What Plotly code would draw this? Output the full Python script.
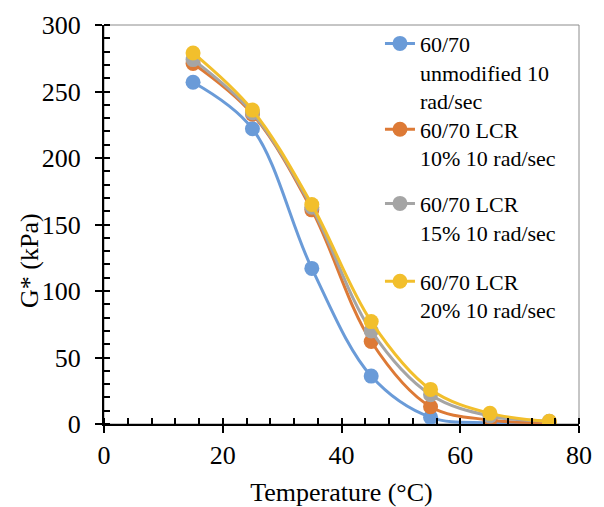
import plotly.graph_objects as go

temperature = [15, 25, 35, 45, 55, 65, 75]
unmodified = [257, 222, 117, 36, 5, 1, 0.5]
lcr10 = [271, 233, 161, 62, 13, 3, 1]
lcr15 = [274, 234, 163, 70, 22, 6, 2]
lcr20 = [279, 236, 165, 77, 26, 8, 2]

names = ["60/70<br>unmodified 10<br>rad/sec",
         "60/70 LCR<br>10% 10 rad/sec",
         "60/70 LCR<br>15% 10 rad/sec",
         "60/70 LCR<br>20% 10 rad/sec"]
colors = ["#6A9BD8", "#DD7A36", "#A5A5A5", "#F2BF2C"]
series = [unmodified, lcr10, lcr15, lcr20]
legend_ids = ["legend", "legend2", "legend3", "legend4"]
legend_tops = [1.006, 0.791, 0.605, 0.410]

FONT = "Liberation Serif, Times New Roman, serif"

fig = go.Figure()
for n, c, s, lg in zip(names, colors, series, legend_ids):
    fig.add_trace(go.Scatter(
        x=temperature, y=s, name=n, mode="lines+markers",
        line=dict(color=c, width=3, shape="spline", smoothing=1.0),
        marker=dict(color=c, size=15),
        legend=lg,
    ))

# overlay axes to draw inside part of major ticks
fig.add_trace(go.Scatter(x=[None], y=[None], xaxis="x2", yaxis="y2", showlegend=False, hoverinfo="skip"))

legend_common = dict(
    x=0.581, xanchor="left", yanchor="top",
    font=dict(family=FONT, size=22, color="black"),
    bgcolor="rgba(0,0,0,0)", borderwidth=0, valign="top",
)
layout_legends = {}
for lg, top in zip(legend_ids, legend_tops):
    layout_legends[lg] = dict(legend_common, y=top)

fig.update_layout(
    width=596, height=499,
    margin=dict(l=96, r=25, t=17, b=83, autoexpand=False),
    paper_bgcolor="white", plot_bgcolor="white",
    font=dict(family=FONT, size=26, color="black"),
    showlegend=True,
    xaxis=dict(
        range=[0, 80], dtick=20, tick0=0, automargin=False,
        showgrid=False, zeroline=False,
        showline=True, linecolor="black", linewidth=2,
        ticks="outside", ticklen=7, tickwidth=2, tickcolor="black",
        minor=dict(dtick=4, ticks="inside", ticklen=6, tickwidth=2, tickcolor="black", showgrid=False),
        tickfont=dict(family=FONT, size=26, color="black"),
        title=dict(text="Temperature (°C)", font=dict(family=FONT, size=26, color="black")),
    ),
    yaxis=dict(
        range=[0, 300], dtick=50, tick0=0, automargin=False,
        showgrid=False, zeroline=False,
        showline=True, linecolor="black", linewidth=2,
        ticks="outside", ticklen=7, tickwidth=2, tickcolor="black",
        ticklabelstandoff=9,
        minor=dict(dtick=10, ticks="inside", ticklen=6, tickwidth=2, tickcolor="black", showgrid=False),
        tickfont=dict(family=FONT, size=26, color="black"),
    ),
    xaxis2=dict(
        overlaying="x", range=[0, 80], dtick=20, tick0=0, side="bottom", automargin=False,
        showgrid=False, zeroline=False, showline=False, showticklabels=False,
        ticks="inside", ticklen=6, tickwidth=2, tickcolor="black",
    ),
    yaxis2=dict(
        overlaying="y", range=[0, 300], dtick=50, tick0=0, side="left", automargin=False,
        showgrid=False, zeroline=False, showline=False, showticklabels=False,
        ticks="inside", ticklen=6, tickwidth=2, tickcolor="black",
    ),
    shapes=[dict(type="rect", xref="paper", yref="paper", x0=0, x1=1, y0=0, y1=1,
                 line=dict(color="#8C8C8C", width=1), layer="below")],
    annotations=[dict(text="G* (kPa)", xref="paper", yref="paper", x=-0.158, y=0.411,
                      xanchor="center", yanchor="middle", textangle=-90, showarrow=False,
                      font=dict(family=FONT, size=26, color="black"))],
    **layout_legends,
)

fig.write_html("out.html")
